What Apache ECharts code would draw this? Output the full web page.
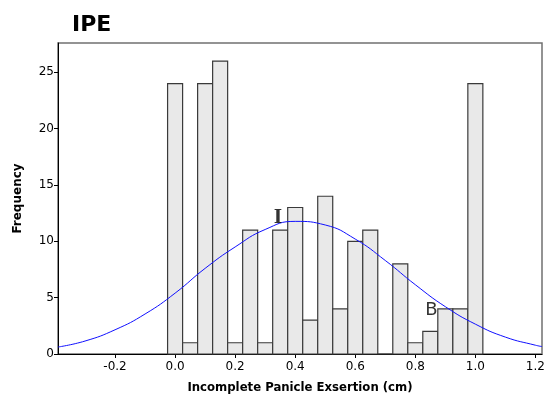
<!DOCTYPE html>
<html>
<head>
<meta charset="utf-8">
<script src="https://cdn.jsdelivr.net/npm/echarts@6/dist/echarts.min.js"></script>
<style>
  html, body { margin: 0; padding: 0; background: #ffffff; }
  #main { width: 552px; height: 394px; }
</style>
</head>
<body>
<div id="main"></div>
<script>
// histogram bins (centre of each 0.05 bin) and counts
var binCentres = [0.00, 0.05, 0.10, 0.15, 0.20, 0.25, 0.30, 0.35, 0.40, 0.45, 0.50,
                  0.55, 0.60, 0.65, 0.70, 0.75, 0.80, 0.85, 0.90, 0.95, 1.00];
var binCounts = [24, 1, 24, 26, 1, 11, 1, 11, 13, 3, 14,
                 4, 10, 11, 0, 8, 1, 2, 4, 4, 24];
var binWidth = 0.05;

// fitted normal curve
var curveX = [-0.39, -0.3, -0.2, -0.1, 0.0, 0.1, 0.2, 0.3, 0.4, 0.5, 0.6, 0.7, 0.8, 0.9, 1.0, 1.1, 1.2, 1.222];
var curveY = [0.62, 1.15, 2.15, 3.55, 5.4, 7.6, 9.5, 11.05, 11.77, 11.45, 10.2, 8.3, 6.15, 4.2, 2.65, 1.5, 0.78, 0.66];

var xTicks = [-0.2, 0.0, 0.2, 0.4, 0.6, 0.8, 1.0, 1.2];

// letters drawn on the plot
var notes = [["I", 0.343, 12.0, 'DejaVu Serif', 'bold'], ["B", 0.854, 3.9, 'DejaVu Sans', 'normal']];

var chart = echarts.init(document.getElementById('main'));

var barData = [];
for (var i = 0; i < binCentres.length; i++) {
  barData.push([binCentres[i], binCounts[i]]);
}
var lineData = [];
for (var i = 0; i < curveX.length; i++) {
  lineData.push([curveX[i], curveY[i]]);
}

var option = {
  animation: false,
  title: {
    text: 'IPE',
    left: 67,
    top: 9,
    textStyle: { fontFamily: 'DejaVu Sans', fontWeight: 900, fontSize: 22, color: '#000' }
  },
  grid: {
    left: 58, right: 10, top: 43, bottom: 40,
    outerBoundsMode: 'none',
    show: true,
    borderColor: '#707070',
    borderWidth: 1.5,
    backgroundColor: '#ffffff'
  },
  xAxis: {
    type: 'value',
    min: -0.39,
    max: 1.222,
    name: 'Incomplete Panicle Exsertion (cm)',
    nameLocation: 'middle',
    nameGap: 27,
    nameTextStyle: { fontFamily: 'DejaVu Sans Condensed', fontWeight: 'bold', fontSize: 13, color: '#000' },
    axisLine: { onZero: false, lineStyle: { color: '#000', width: 1 } },
    axisTick: { show: true, length: 4, inside: false, customValues: xTicks, lineStyle: { color: '#000' } },
    axisLabel: {
      customValues: xTicks,
      margin: 7,
      fontFamily: 'DejaVu Sans', fontSize: 12, color: '#000',
      formatter: function (v) { return v.toFixed(1); }
    },
    splitLine: { show: false }
  },
  yAxis: {
    type: 'value',
    min: 0,
    max: 27.6,
    interval: 5,
    name: 'Frequency',
    nameLocation: 'middle',
    nameGap: 34,
    nameTextStyle: { fontFamily: 'DejaVu Sans', fontWeight: 'bold', fontSize: 12, color: '#000' },
    axisLine: { show: true, onZero: false, lineStyle: { color: '#000', width: 1 } },
    axisTick: { show: true, length: 4, lineStyle: { color: '#000' } },
    axisLabel: {
      margin: 4,
      fontFamily: 'DejaVu Sans', fontSize: 12, color: '#000',
      showMaxLabel: false
    },
    splitLine: { show: false }
  },
  series: [
    {
      type: 'custom',
      name: 'bins',
      data: barData,
      renderItem: function (params, api) {
        var c = api.value(0);
        var v = api.value(1);
        var p0 = api.coord([c - binWidth / 2, 0]);
        var p1 = api.coord([c + binWidth / 2, v]);
        return {
          type: 'rect',
          shape: { x: p0[0], y: p1[1], width: p1[0] - p0[0], height: p0[1] - p1[1] },
          style: { fill: '#e9e9e9', stroke: '#3a3a3a', lineWidth: 1.2 }
        };
      },
      z: 2
    },
    {
      type: 'line',
      name: 'normal',
      data: lineData,
      smooth: true,
      showSymbol: false,
      lineStyle: { color: '#1010ff', width: 1 },
      z: 3
    },
    {
      type: 'scatter',
      name: 'notes',
      data: notes.map(function (n) {
        return {
          name: n[0],
          value: [n[1], n[2]],
          label: { fontFamily: n[3], fontWeight: n[4] }
        };
      }),
      symbolSize: 0,
      label: {
        show: true,
        position: 'inside',
        formatter: function (p) { return p.name; },
        color: '#000',
        fontSize: 18
      },
      z: 4
    }
  ]
};

chart.setOption(option);
window.addEventListener('resize', function () {
  chart.resize();
});
</script>
</body>
</html>
